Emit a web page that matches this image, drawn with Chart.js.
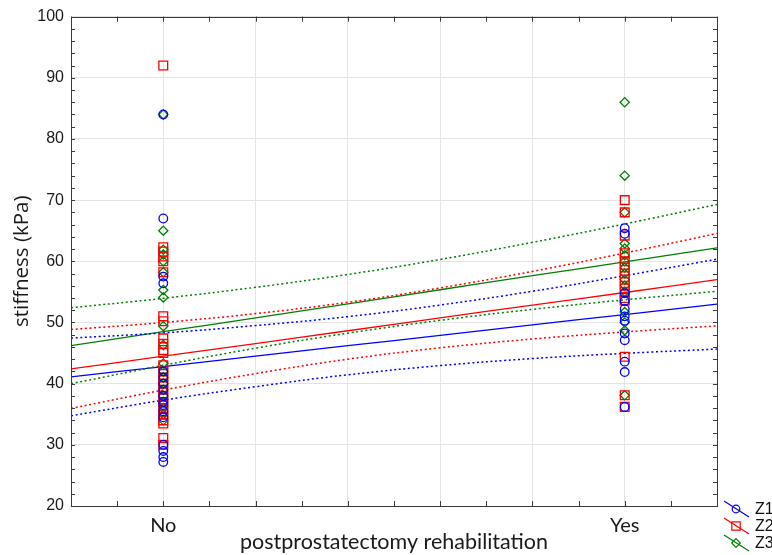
<!DOCTYPE html>
<html>
<head>
<meta charset="utf-8">
<script src="https://cdn.jsdelivr.net/npm/chart.js@4.4.0/dist/chart.umd.min.js"></script>
<style>
  body { margin: 0; background: #fff; }
  #wrap { width: 772px; height: 555px; }
</style>
</head>
<body>
<div id="wrap"><canvas id="chart" width="772" height="555"></canvas></div>
<script>
// categories on the x axis (No = 0, Yes = 1)
var categories = ['No', 'Yes'];
var seriesNames = ['Z1', 'Z2', 'Z3'];
var colors = ['#0000ff', '#ff0000', '#008000'];

// raw stiffness values (kPa) per group
var z1No  = [84, 67, 57.5, 56.4, 42, 41, 40, 39, 38, 37, 36.5, 35.5, 34.5, 30, 29, 28, 27.2];
var z1Yes = [65.4, 64.5, 54.8, 53.5, 52.2, 51, 50.3, 48.2, 47.1, 43.6, 41.9, 36.2];
var z2No  = [92, 62.3, 61.6, 60.8, 60, 58.2, 51, 50.2, 47.4, 46.5, 45.5, 45, 43, 42, 41, 40, 39, 38, 37, 36, 35, 34, 33.5, 31.1, 30];
var z2Yes = [70, 68, 64.2, 61.3, 60, 59, 58, 57, 56, 55, 54, 53.6, 44.4, 38.1, 36.2];
var z3No  = [84, 65, 61.9, 61.1, 60, 58.2, 55.3, 54.1, 49.4, 46.3, 43.3, 42, 41, 40, 39, 38, 37, 36, 35, 34];
var z3Yes = [86, 74, 68, 62.9, 62.1, 61, 60, 59, 58, 57, 56, 55, 51.7, 50, 48.7, 38.1];

// regression lines and 95% bands, read at these x positions
var fitX    = [-0.2, 0, 0.2, 0.4, 0.6, 0.8, 1.0, 1.2];
var z1Fit   = [41.1, 42.8, 44.5, 46.2, 47.9, 49.6, 51.3, 53.0];
var z1Upper = [47.45, 48.3, 49.5, 50.95, 52.85, 55.1, 57.65, 60.35];
var z1Lower = [34.75, 37.3, 39.5, 41.45, 42.95, 44.1, 44.95, 45.65];
var z2Fit   = [42.4, 44.5, 46.55, 48.65, 50.75, 52.85, 54.9, 57.0];
var z2Upper = [48.85, 50.0, 51.45, 53.3, 55.65, 58.35, 61.35, 64.55];
var z2Lower = [35.95, 38.95, 41.65, 44.0, 45.85, 47.3, 48.45, 49.45];
var z3Fit   = [46.2, 48.5, 50.75, 53.05, 55.35, 57.65, 59.9, 62.2];
var z3Upper = [52.4, 53.95, 55.75, 57.85, 60.3, 63.1, 66.1, 69.3];
var z3Lower = [40.0, 43.0, 45.8, 48.25, 50.35, 52.15, 53.7, 55.1];

var yTicks = [20, 30, 40, 50, 60, 70, 80, 90, 100];

function points(noVals, yesVals) {
    return noVals.map(function (v) { return {x: 0, y: v}; })
        .concat(yesVals.map(function (v) { return {x: 1, y: v}; }));
}
function curve(vals) {
    return fitX.map(function (x, i) { return {x: x, y: vals[i]}; });
}

var pointStyles = ['circle', 'rect', 'rectRot'];
var pointRadii = [4.3, 6.2, 4.6];

function scatterSet(i, data) {
    return {
        label: seriesNames[i], data: data, order: 1,
        pointStyle: pointStyles[i], pointRadius: pointRadii[i], pointHoverRadius: pointRadii[i],
        borderColor: colors[i], backgroundColor: 'rgba(0,0,0,0)', pointBorderWidth: 1.3,
        showLine: false
    };
}
function lineSet(i, data, dotted) {
    return {
        label: seriesNames[i] + (dotted ? ' band' : ' fit'), data: curve(data), order: 2,
        showLine: true, pointRadius: 0, borderColor: colors[i], borderWidth: dotted ? 1.5 : 1.3,
        borderDash: dotted ? [2, 2.6] : [], tension: 0.4, fill: false
    };
}

var datasets = [
    lineSet(0, z1Upper, true), lineSet(0, z1Lower, true),
    lineSet(1, z2Upper, true), lineSet(1, z2Lower, true),
    lineSet(2, z3Upper, true), lineSet(2, z3Lower, true),
    lineSet(0, z1Fit, false), lineSet(1, z2Fit, false), lineSet(2, z3Fit, false),
    scatterSet(0, points(z1No, z1Yes)),
    scatterSet(1, points(z2No, z2Yes)),
    scatterSet(2, points(z3No, z3Yes))
];

// frame, inward minor ticks and the custom legend
var framePlugin = {
    id: 'frame',
    afterDraw: function (chart) {
        var ctx = chart.ctx, a = chart.chartArea, xs = chart.scales.x, ys = chart.scales.y;
        ctx.save();
        ctx.strokeStyle = '#3a3a3a';
        ctx.lineWidth = 1;
        ctx.beginPath();
        for (var v = 20; v <= 100; v += 2) {
            var py = Math.round(ys.getPixelForValue(v)) + 0.5;
            ctx.moveTo(a.left, py); ctx.lineTo(a.left + 4, py);
            ctx.moveTo(a.right, py); ctx.lineTo(a.right - 4, py);
        }
        for (var k = -2; k <= 12; k++) {
            var px = Math.round(xs.getPixelForValue(k / 10)) + 0.5;
            ctx.moveTo(px, a.bottom); ctx.lineTo(px, a.bottom - 5);
            ctx.moveTo(px, a.top); ctx.lineTo(px, a.top + 5);
        }
        ctx.stroke();
        ctx.strokeRect(Math.round(a.left) + 0.5, Math.round(a.top) + 0.5,
            Math.round(a.right - a.left), Math.round(a.bottom - a.top));

        // legend
        var rows = [509, 526, 543];
        for (var i = 0; i < 3; i++) {
            var cx = 736, cy = rows[i];
            ctx.strokeStyle = colors[i];
            ctx.lineWidth = 1.2;
            ctx.beginPath();
            ctx.moveTo(cx - 12, cy - 8); ctx.lineTo(cx + 13, cy + 8);
            ctx.stroke();
            ctx.beginPath();
            if (i === 0) {
                ctx.arc(cx, cy, 3.8, 0, Math.PI * 2);
            } else if (i === 1) {
                ctx.rect(cx - 4.2, cy - 4.2, 8.4, 8.4);
            } else {
                ctx.moveTo(cx, cy - 4.3); ctx.lineTo(cx + 4.3, cy); ctx.lineTo(cx, cy + 4.3); ctx.lineTo(cx - 4.3, cy); ctx.closePath();
            }
            ctx.stroke();
            ctx.fillStyle = '#111';
            ctx.font = '16px "Liberation Sans", Arial, sans-serif';
            ctx.textBaseline = 'middle';
            ctx.fillText(seriesNames[i], 755, cy + 1);
        }
        ctx.restore();
    }
};

new Chart(document.getElementById('chart'), {
    type: 'scatter',
    data: {datasets: datasets},
    plugins: [framePlugin],
    options: {
        responsive: false,
        animation: false,
        events: [],
        layout: {padding: {top: 16, right: 55, bottom: 0, left: 0}},
        plugins: {legend: {display: false}, tooltip: {enabled: false}},
        scales: {
            x: {
                type: 'linear', min: -0.2, max: 1.2,
                afterBuildTicks: function (scale) {
                    scale.ticks = fitX.map(function (v) { return {value: v}; });
                },
                afterFit: function (scale) { scale.height = 49; },
                grid: {color: '#e4e4e4', drawTicks: false},
                border: {display: false},
                ticks: {
                    padding: 8, color: '#1a1a1a', maxRotation: 0, autoSkip: false,
                    font: {family: 'Lato', size: 20},
                    callback: function (v) {
                        var r = Math.round(v * 10);
                        if (r === 0) return categories[0];
                        if (r === 10) return categories[1];
                        return '';
                    }
                },
                title: {
                    display: true, text: 'postprostatectomy rehabilitation', color: '#1a1a1a',
                    font: {family: 'Lato', size: 21.5}, padding: {top: 0, bottom: 0}
                }
            },
            y: {
                min: 20, max: 100,
                afterBuildTicks: function (scale) {
                    scale.ticks = yTicks.map(function (v) { return {value: v}; });
                },
                afterFit: function (scale) { scale.width = 71; },
                grid: {color: '#e4e4e4', drawTicks: false},
                border: {display: false},
                ticks: {
                    padding: 7, color: '#1a1a1a',
                    font: {family: '"Liberation Sans", Arial, sans-serif', size: 16}
                },
                title: {
                    display: true, text: 'stiffness (kPa)', color: '#1a1a1a',
                    font: {family: '"Open Sans"', size: 20.5}, padding: {top: 10, bottom: 0}
                }
            }
        }
    }
});
</script>
</body>
</html>
